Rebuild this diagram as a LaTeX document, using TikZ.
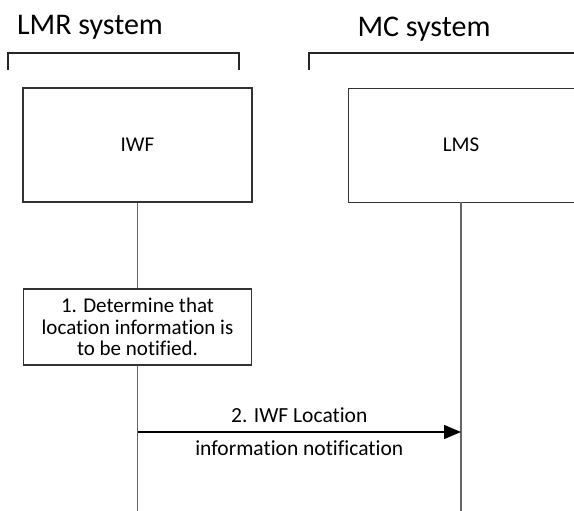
\documentclass[tikz,border=0pt]{standalone}
\usepackage{fontspec}
\setmainfont{Carlito}[Ligatures=NoCommon]
\usepackage{tikz}
\usetikzlibrary{arrows.meta,positioning,calc}

\tikzset{
  sysbox/.style={draw=black!80, line width=1.1pt, fill=white, font=\fontsize{21}{24}\selectfont},
  stepbox/.style={draw=black!80, line width=1.1pt, fill=white, align=center, inner sep=0pt,
    minimum width=228pt, minimum height=76pt, font=\fontsize{21}{21.5}\selectfont},
  lifeline/.style={draw=black!60, line width=1.1pt},
  msg/.style={draw=black, line width=1.3pt, -{Triangle[length=17pt,width=14pt]}},
  msglabel/.style={font=\fontsize{21.5}{24}\selectfont},
  bracket/.style={draw=black!85, line width=1.3pt},
  systitle/.style={font=\fontsize{30}{32}\selectfont}
}

\begin{document}
\begin{tikzpicture}[x=1pt,y=-1pt]
\clip (0,0) rectangle (574,511);
\fill[white] (0,0) rectangle (574,511);

% System titles and brackets
\node[systitle] (lmr) at (90,27) {LMR system};
\node[systitle] (mc) at (424,29) {MC system};
\draw[bracket] (8,70) -- (8,53) -- (239,53) -- (239,70);
\draw[bracket] (309,70) -- (309,53) -- (590,53);

% Entities
\node[sysbox, minimum width=229pt, minimum height=114pt] (iwf) at (137.5,145) {IWF};
\node[sysbox, minimum width=240pt, minimum height=114pt, anchor=north west] (lms) at (348,88) {};
\node[font=\fontsize{21}{24}\selectfont] (lmslbl) at (461,145) {LMS};

% Lifelines
\coordinate (iwfend) at (137.5,511);
\coordinate (lmsend) at (461,511);
\coordinate (lmstop) at (461,202);
\draw[lifeline] (iwf.south) -- (iwfend);
\draw[lifeline] (lmstop) -- (lmsend);

% Step 1 box on IWF lifeline
\node[stepbox] (step1) at (137.5,327) {1. Determine that\\location information is\\to be notified.};

% Message 2
\coordinate (m2a) at (137.5,432);
\coordinate (m2b) at (461,432);
\draw[msg] (m2a) -- (m2b)
  node[midway, above=5pt, msglabel] (m2top) {2. IWF Location}
  node[midway, below=5pt, msglabel] (m2bot) {information notification};

\end{tikzpicture}
\end{document}
